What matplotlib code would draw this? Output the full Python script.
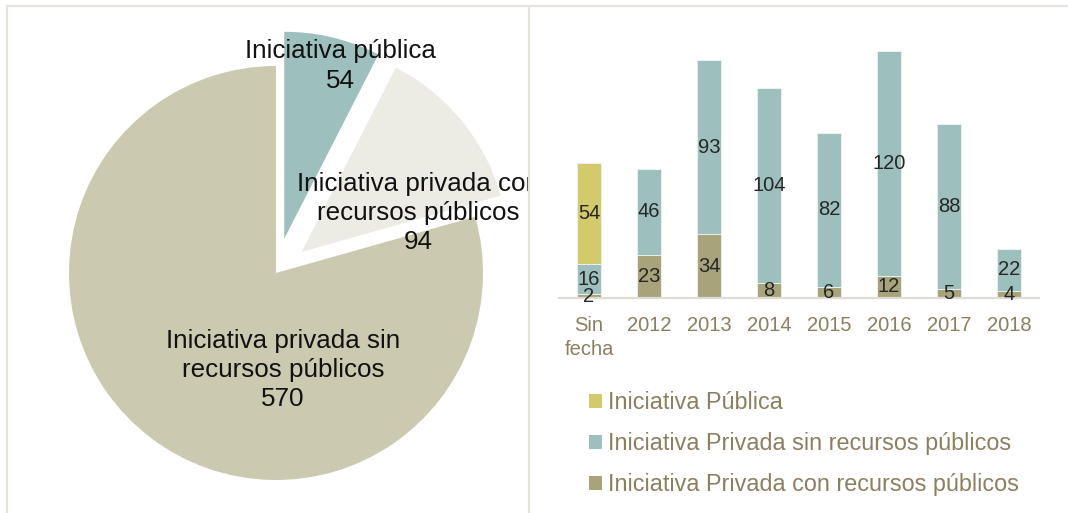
import matplotlib.pyplot as plt
from matplotlib.lines import Line2D
from matplotlib.patches import Patch
import numpy as np

plt.rcParams['font.family'] = ['Liberation Sans', 'DejaVu Sans']

# Pie: totals by type of initiative
pie_labels = ['Iniciativa pública', 'Iniciativa privada con\nrecursos públicos',
              'Iniciativa privada sin\nrecursos públicos']
pie_values = [54, 94, 570]
pie_colors = ['#9dbfbd', '#ecebe4', '#cbc9b0']

# Stacked bars by year
years = ['Sin\nfecha', '2012', '2013', '2014', '2015', '2016', '2017', '2018']
con_recursos = [2, 23, 34, 8, 6, 12, 5, 4]
sin_recursos = [16, 46, 93, 104, 82, 120, 88, 22]
publica = [54, 0, 0, 0, 0, 0, 0, 0]
series_names = ['Iniciativa Pública', 'Iniciativa Privada sin recursos públicos',
                'Iniciativa Privada con recursos públicos']
bar_colors = ['#d3c96d', '#9dbfbd', '#a9a37c']

W, H = 1068, 513
fig = plt.figure(figsize=(W / 100, H / 100), dpi=100)

def fx(px):
    return px / W

def fy(py):
    return 1 - py / H

# panel frames
frame_kw = dict(color='#e6e3da', lw=1.6, transform=fig.transFigure)
fig.add_artist(Line2D([fx(7), 1], [fy(6), fy(6)], **frame_kw))
fig.add_artist(Line2D([fx(7), fx(7)], [fy(6), 0], **frame_kw))
fig.add_artist(Line2D([fx(529), fx(529)], [fy(6), 0], **frame_kw))

# ---- pie ----
cx, cy, r = 276, 273, 207
ax1 = fig.add_axes([fx(8), fy(513), fx(520), (513 - 7) / H])
ax1.pie(pie_values, colors=pie_colors, startangle=90, counterclock=False,
        explode=[0.17, 0.16, 0], radius=1, wedgeprops=dict(linewidth=0))
ax1.set_aspect('auto')
ax1.set_xlim((8 - cx) / r, (528 - cx) / r)
ax1.set_ylim((cy - 513) / r, (cy - 7) / r)
ax1.axis('off')

label_pos = [(0.309, 1.0), (0.686, 0.29), (0.034, -0.469)]
for name, val, (tx, ty) in zip(pie_labels, pie_values, label_pos):
    t = ax1.text(tx, ty, f'{name}\n{val}', ha='center', va='center',
                 fontsize=18.7, color='#111111', linespacing=1.27)
    t.set_clip_on(True)

# ---- stacked bars ----
ymax = 263 / 1.873
ax2 = fig.add_axes([fx(559), fy(298), fx(480), 263 / H])
x = np.arange(len(years))
bw = 0.41
edge = dict(edgecolor='#eef3f2', linewidth=0.6)
b_con = ax2.bar(x, con_recursos, bw, color=bar_colors[2], **edge)
b_sin = ax2.bar(x, sin_recursos, bw, bottom=con_recursos, color=bar_colors[1], **edge)
base2 = np.array(con_recursos) + np.array(sin_recursos)
b_pub = ax2.bar(x, publica, bw, bottom=base2, color=bar_colors[0], **edge)

for bars, vals in [(b_con, con_recursos), (b_sin, sin_recursos), (b_pub, publica)]:
    ax2.bar_label(bars, labels=[str(v) if v else '' for v in vals],
                  label_type='center', fontsize=14.5, color='#262626')

ax2.set_xlim(-0.5, len(years) - 0.5)
ax2.set_ylim(0, ymax)
ax2.set_xticks(x, years)
ax2.set_yticks([])
for s in ['top', 'right', 'left']:
    ax2.spines[s].set_visible(False)
ax2.spines['bottom'].set_color('#dedbd2')
ax2.spines['bottom'].set_linewidth(1.6)
ax2.tick_params(axis='x', length=0, pad=13, labelsize=14.5, labelcolor='#8c7e5f')
for lbl in ax2.get_xticklabels():
    lbl.set_linespacing(1.35)

handles = [Patch(facecolor=c, edgecolor='none') for c in bar_colors]
leg = fig.legend(handles, series_names, loc='upper left',
                 bbox_to_anchor=(fx(580), fy(382)), frameon=False,
                 fontsize=16.8, handlelength=0.55, handleheight=0.55,
                 handletextpad=0.25, labelspacing=0.76, borderaxespad=0)
for t in leg.get_texts():
    t.set_color('#8c7e5f')

fig.savefig('out.png', dpi=100)
